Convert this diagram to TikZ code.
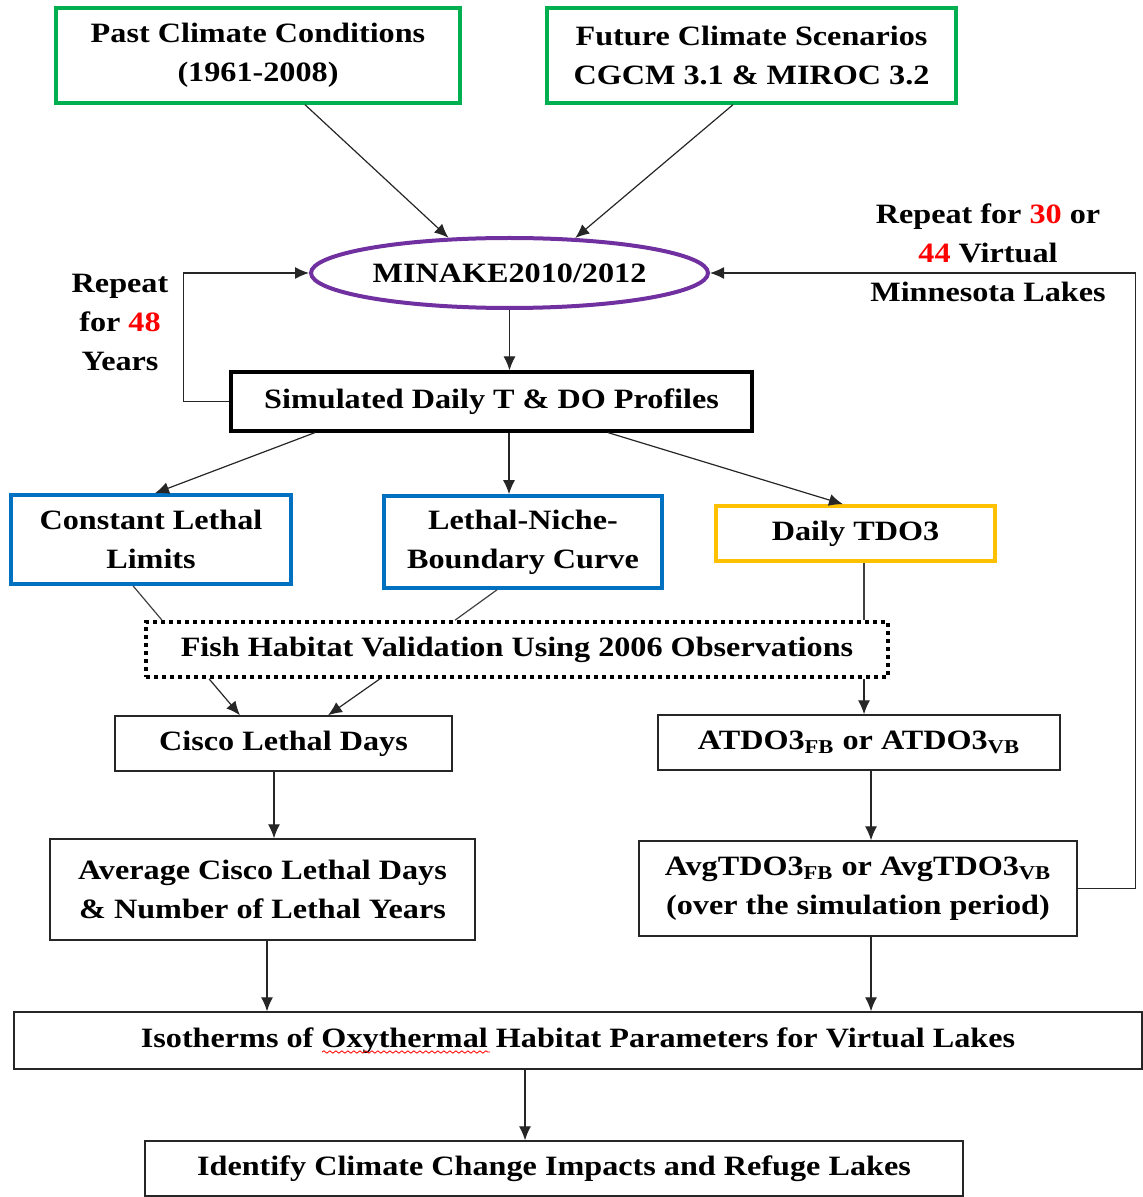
\documentclass[tikz,border=0pt]{standalone}
\usepackage{fontspec}
\setmainfont{Liberation Serif}[FakeStretch=1.15]
\usetikzlibrary{arrows.meta,calc,shapes.geometric,decorations.pathmorphing}

\definecolor{boxgreen}{RGB}{0,176,80}
\definecolor{boxblue}{RGB}{0,112,192}
\definecolor{boxgold}{RGB}{255,192,0}
\definecolor{ovalpurple}{RGB}{112,48,160}

\tikzset{
  every node/.style={font=\bfseries\fontsize{14}{19.5}\selectfont, align=center, inner sep=0pt},
  plainbox/.style={draw=black!85, line width=0.7pt, rectangle},
  heavybox/.style={draw=black, line width=1.6pt, rectangle},
  greenbox/.style={draw=boxgreen, line width=1.7pt, rectangle},
  bluebox/.style={draw=boxblue, line width=1.8pt, rectangle},
  goldbox/.style={draw=boxgold, line width=1.8pt, rectangle},
  dotbox/.style={draw=black, line width=1.8pt, dash pattern=on 2pt off 2pt, rectangle},
  flow/.style={draw=black!85, line width=0.6pt, -{Latex[length=7pt,width=6pt]}},
  link/.style={draw=black!75, line width=0.6pt}
}

\begin{document}
\begin{tikzpicture}[x=0.5pt,y=-0.5pt]
    \useasboundingbox (0,0) rectangle (1142,1197);

    % Inputs
    \node[greenbox, minimum width=202pt, minimum height=47.5pt] (past) at (258,55.5)
      {Past Climate Conditions\\(1961-2008)};
    \node[greenbox, minimum width=204.5pt, minimum height=47.5pt] (fut) at (751.5,55.5)
      {Future Climate Scenarios\\CGCM 3.1 \& MIROC 3.2};

    % Lake model
    \node[ellipse, draw=ovalpurple, line width=2pt, minimum width=198.5pt, minimum height=35pt] (mk) at (509.5,273)
      {MINAKE2010/2012};
    \node[heavybox, minimum width=260.5pt, minimum height=29.5pt] (sim) at (491.5,401.5)
      {Simulated Daily T \& DO Profiles};

    % Loop labels
    \node (rep48) at (120,322) {Repeat\\for \textcolor{red}{48}\\Years};
    \node (rep30) at (988,253) {Repeat for \textcolor{red}{30} or\\\textcolor{red}{44} Virtual\\Minnesota Lakes};

    % Habitat criteria
    \node[bluebox, minimum width=140pt, minimum height=44.5pt] (cll) at (151,539.5)
      {Constant Lethal\\Limits};
    \node[bluebox, minimum width=139pt, minimum height=46pt] (lnb) at (523,542)
      {Lethal-Niche-\\Boundary Curve};
    \node[goldbox, minimum width=139.5pt, minimum height=27.5pt] (tdo) at (855.5,533.5)
      {Daily TDO3};

    % Validation
    \node[dotbox, minimum width=371pt, minimum height=27.5pt] (fhv) at (517,649.5)
      {Fish Habitat Validation Using 2006 Observations};

    % Outputs
    \node[plainbox, minimum width=168.5pt, minimum height=27.5pt] (cis) at (283.5,743.5)
      {Cisco Lethal Days};
    \node[plainbox, minimum width=201pt, minimum height=27.5pt] (atd) at (859,742.5)
      {ATDO3\textsubscript{FB} or ATDO3\textsubscript{VB}};
    \node[plainbox, minimum width=212.5pt, minimum height=50.5pt] (acl) at (262.5,889.5)
      {Average Cisco Lethal Days\\\& Number of Lethal Years};
    \node[plainbox, minimum width=219pt, minimum height=47.5pt] (avg) at (858,888.5)
      {AvgTDO3\textsubscript{FB} or AvgTDO3\textsubscript{VB}\\(over the simulation period)};
    \node[plainbox, minimum width=564pt, minimum height=28.5pt] (iso) at (578,1040.5)
      {Isotherms of Oxythermal Habitat Parameters for Virtual Lakes};
    \node[plainbox, minimum width=409pt, minimum height=27.5pt] (idf) at (554,1168.5)
      {Identify Climate Change Impacts and Refuge Lakes};

    % Spell-check squiggle
    \draw[red, line width=0.4pt, decorate, decoration={snake, amplitude=0.6pt, segment length=3pt}]
      (322,1052) -- (490,1052);

    % Connectors
    \draw[flow] ($(past.south)+(47,0)$) -- (mk.150);
    \draw[flow] ($(fut.south)+(-18.5,0)$) -- (mk.28);
    \draw[flow] (mk.south) -- (mk.south |- sim.north);
    \draw[flow] (sim.west) -- ++(-46,0) |- (mk.west);
    \draw[flow] (avg.east) -- ++(58,0) |- (mk.east);

    \draw[flow] ($(sim.south)+(-176.5,0)$) -- ($(cll.north)+(4,0)$);
    \draw[flow] ($(sim.south)+(17.5,0)$) -- ($(lnb.north)+(-14,0)$);
    \draw[flow] ($(sim.south)+(116.5,0)$) -- ($(tdo.north)+(-12.5,0)$);

    \draw[link] ($(cll.south)+(-18,0)$) -- ($(fhv.north)+(-355,0)$);
    \draw[link] ($(lnb.south)+(-26,0)$) -- ($(fhv.north)+(-62,0)$);
    \draw[link] ($(tdo.south)+(8.5,0)$) coordinate (t1) -- (t1 |- fhv.north);

    \draw[flow] ($(fhv.south)+(-308,0)$) -- ($(cis.north)+(-43.5,0)$);
    \draw[flow] ($(fhv.south)+(-137,0)$) -- ($(cis.north)+(44.5,0)$);
    \draw[flow] ($(fhv.south)+(347,0)$) coordinate (f1) -- (f1 |- atd.north);

    \draw[flow] ($(cis.south)+(-9.5,0)$) coordinate (c1) -- (c1 |- acl.north);
    \draw[flow] ($(atd.south)+(12,0)$) coordinate (a1) -- (a1 |- avg.north);
    \draw[flow] ($(acl.south)+(4.5,0)$) coordinate (c2) -- (c2 |- iso.north);
    \draw[flow] ($(avg.south)+(13,0)$) coordinate (a2) -- (a2 |- iso.north);
    \draw[flow] ($(iso.south)+(-53,0)$) coordinate (i1) -- (i1 |- idf.north);

  \end{tikzpicture}
\end{document}
